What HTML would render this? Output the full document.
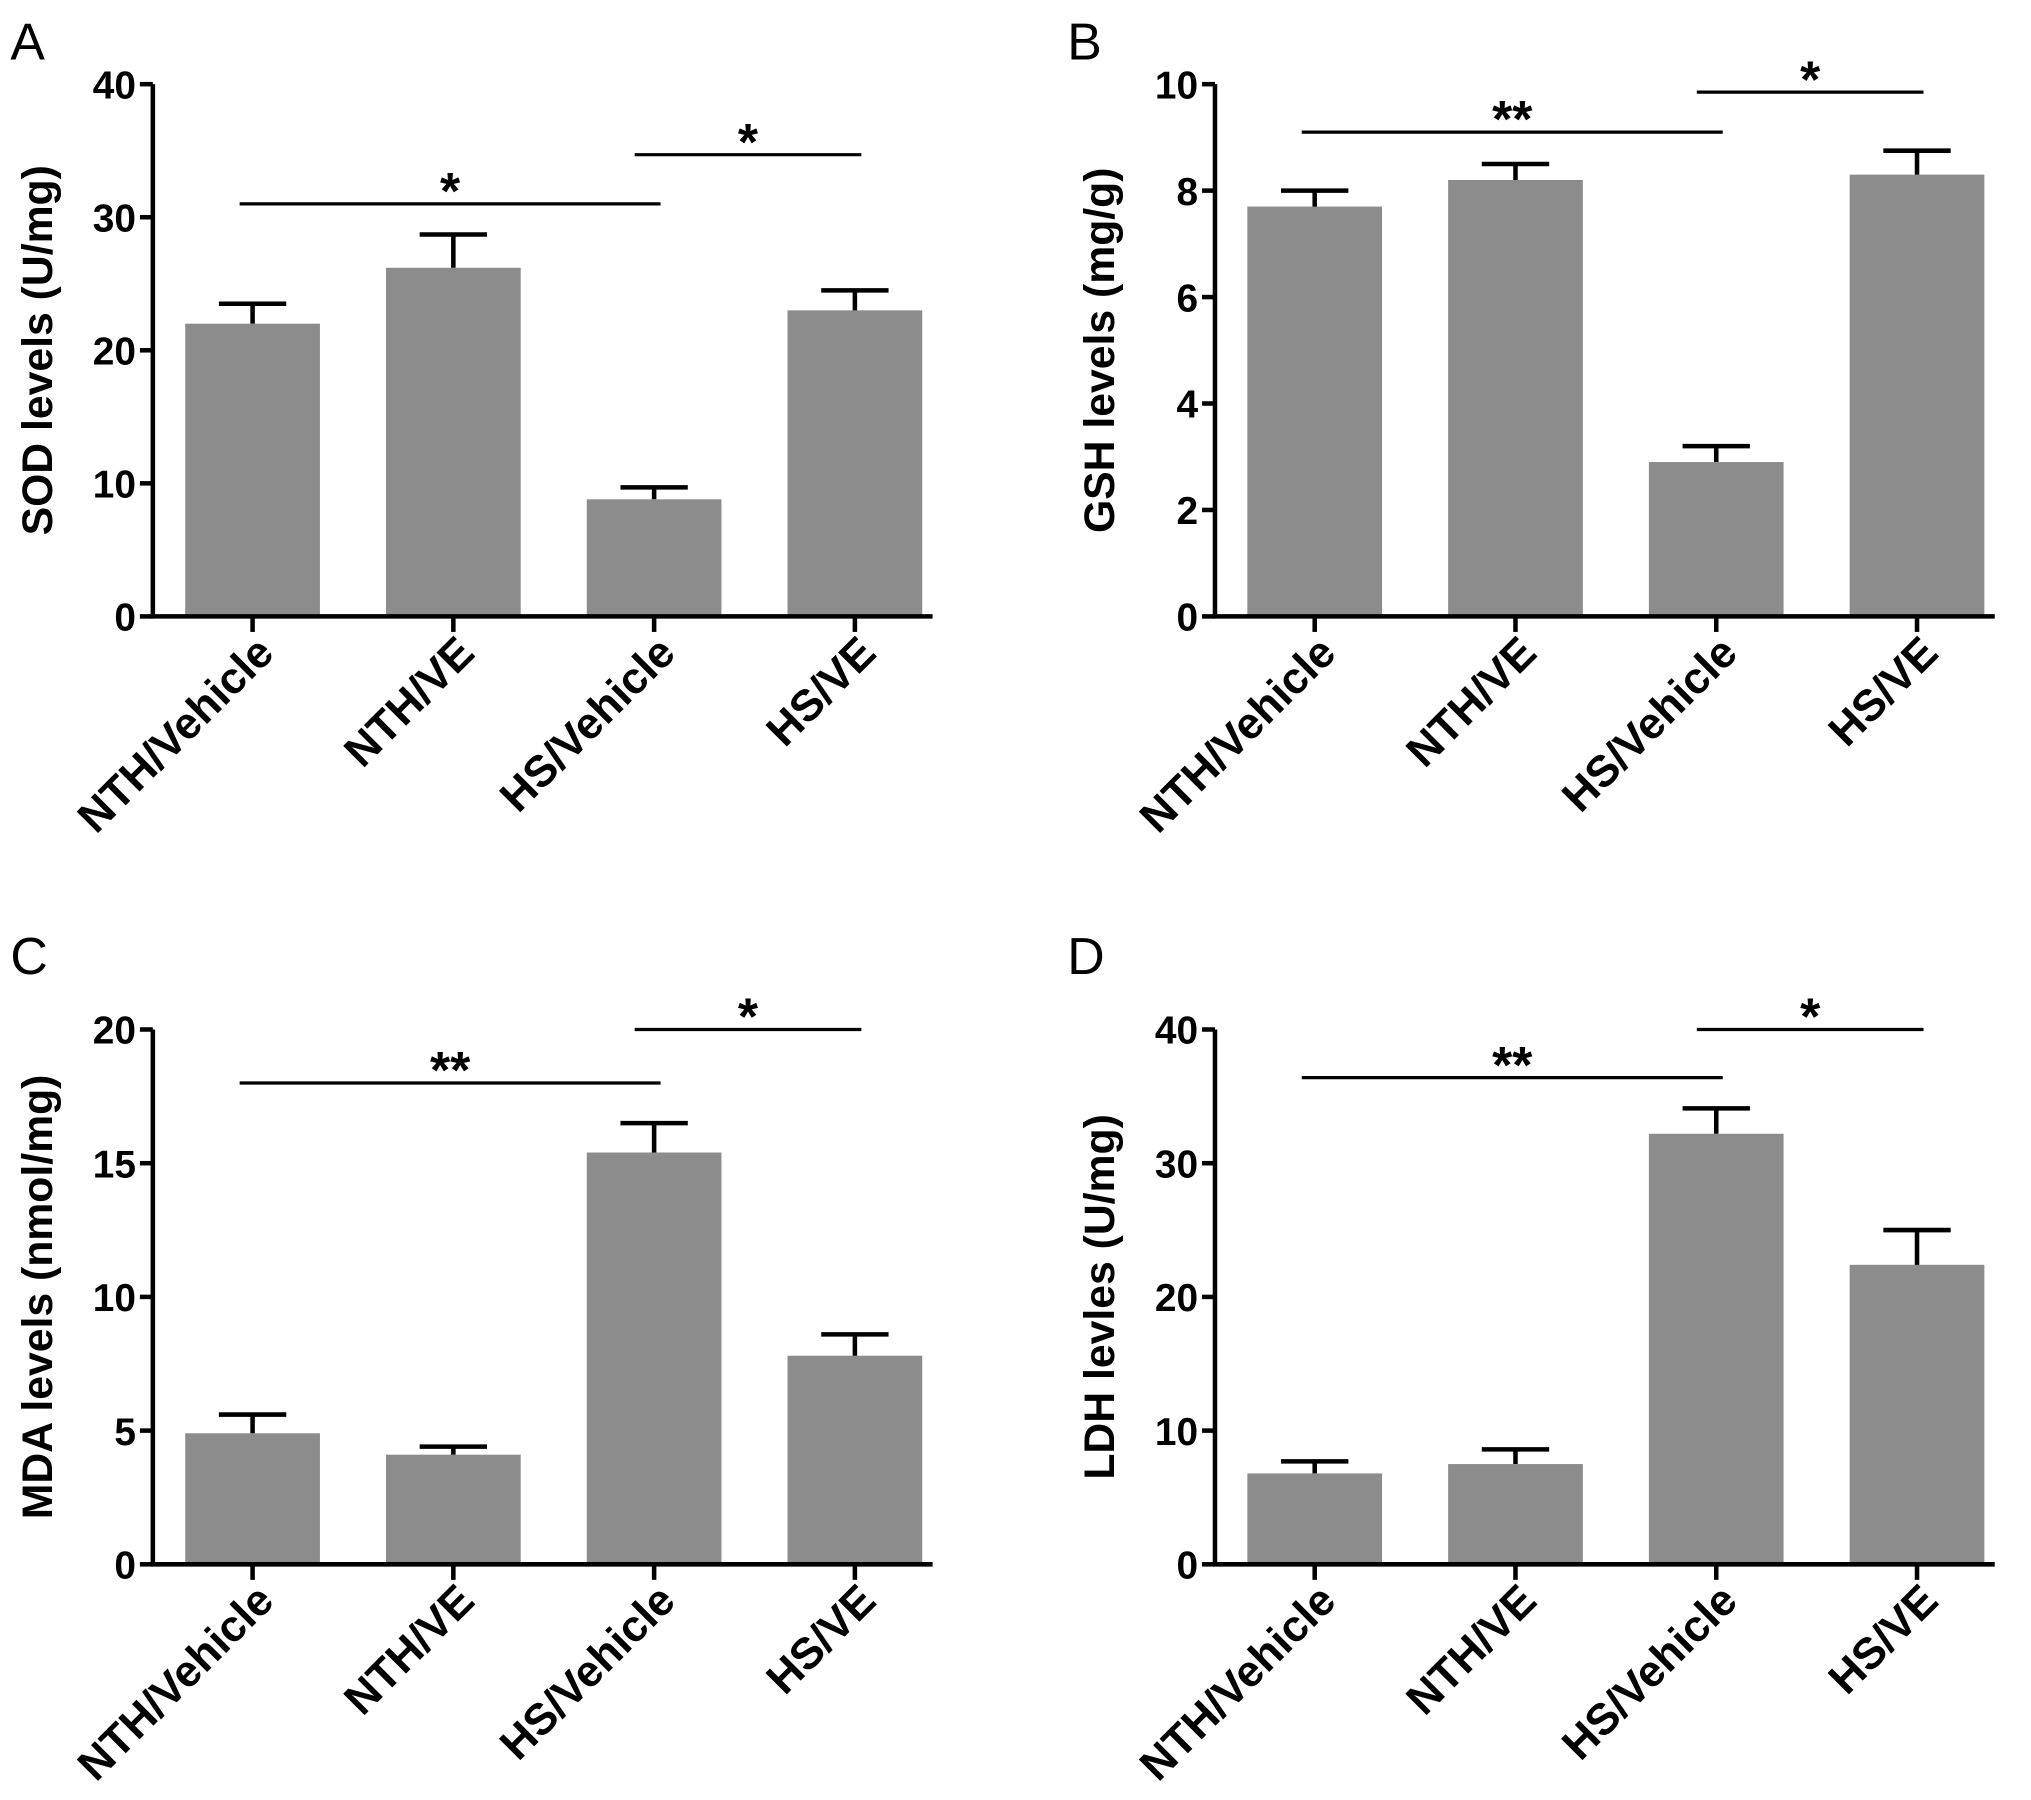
<!DOCTYPE html>
<html><head><meta charset="utf-8"><style>
html,body{margin:0;padding:0;background:#fff;}
svg{display:block;}
text{font-family:"Liberation Sans",Arial,sans-serif;}
</style></head><body>
<svg id="fig" width="2031" height="1800" viewBox="0 0 1568 1390" preserveAspectRatio="none" xmlns="http://www.w3.org/2000/svg"></svg>
<script>
const categories = ["NTH/Vehicle","NTH/VE","HS/Vehicle","HS/VE"];
const sodValues = [22, 26.2, 8.8, 23];
const sodErrors = [1.5, 2.5, 0.9, 1.5];
const gshValues = [7.7, 8.2, 2.9, 8.3];
const gshErrors = [0.3, 0.3, 0.3, 0.45];
const mdaValues = [4.9, 4.1, 15.4, 7.8];
const mdaErrors = [0.7, 0.3, 1.1, 0.8];
const ldhValues = [6.8, 7.5, 32.2, 22.4];
const ldhErrors = [0.9, 1.1, 1.9, 2.6];
const sodTicks = [0,10,20,30,40];
const gshTicks = [0,2,4,6,8,10];
const mdaTicks = [0,5,10,15,20];
const ldhTicks = [0,10,20,30,40];
// significance brackets: [fromCategory, toCategory, value level, label]
const sodSig = [[0,2,31,"*"],[2,3,34.7,"*"]];
const gshSig = [[0,2,9.1,"**"],[2,3,9.85,"*"]];
const mdaSig = [[0,2,18,"**"],[2,3,20,"*"]];
const ldhSig = [[0,2,36.4,"**"],[2,3,40,"*"]];

const NS="http://www.w3.org/2000/svg";
const svg=document.getElementById('fig');
function mk(tag,attrs,parent){const e=document.createElementNS(NS,tag);for(const k in attrs)e.setAttribute(k,attrs[k]);(parent||svg).appendChild(e);return e;}

function drawPanel(o){
  const g=mk('g',{});
  
  
  const x0=o.ax, yTop=o.top, yBot=o.bot, yMax=o.ticks[o.ticks.length-1];
  const yS=v=>yBot-(v/yMax)*(yBot-yTop);
  const step=155, bw=104;
  const xC=i=>x0+77+i*step;
  const lt=mk('text',{x:o.lx,y:o.ly,'font-size':40},g);lt.textContent=o.letter;
  
  
  o.vals.forEach((v,i)=>{
    const b=mk('rect',{x:xC(i)-bw/2,y:yS(v),width:bw,height:yBot-yS(v),fill:'#8c8c8c'},g);
    
    
    const e=o.errs[i], yt=yS(v+e);
    const eb=mk('path',{d:`M${xC(i)},${yS(v)} V${yt} M${xC(i)-26},${yt} H${xC(i)+26}`,stroke:'#000','stroke-width':3.5,fill:'none'},g);
    
    
  });
  const ax=mk('path',{d:`M${x0},${yTop} V${yBot} H${x0+602}`,stroke:'#000','stroke-width':3.5,fill:'none'},g);
  
  
  o.ticks.forEach(t=>{
    mk('line',{x1:x0-10,x2:x0,y1:yS(t),y2:yS(t),stroke:'#000','stroke-width':3.5},g);
    const tl=mk('text',{x:x0-13,y:yS(t)+11,'font-size':30,'font-weight':'bold','text-anchor':'end'},g);
    tl.textContent=t;
    
    
  });
  categories.forEach((c,i)=>{
    mk('line',{x1:xC(i),x2:xC(i),y1:yBot,y2:yBot+12,stroke:'#000','stroke-width':3.5},g);
    const cl=mk('text',{x:0,y:0,'font-size':34,'font-weight':'bold','text-anchor':'end',transform:`translate(${xC(i)+18},${yBot+30}) rotate(-45)`},g);
    cl.textContent=c;
    
    
  });
  const yt=mk('text',{x:0,y:0,'font-size':33,'font-weight':'bold','text-anchor':'middle',transform:`translate(${x0-78},${(yTop+yBot)/2}) rotate(-90)`},g);
  yt.textContent=o.title;
  
  
  o.sig.forEach(s=>{
    const y=yS(s[2]);
    const x1=xC(s[0])-10+(s[0]===2?-5:0), x2=xC(s[1])+5;
    const l=mk('line',{x1:x1,x2:x2,y1:y,y2:y,stroke:'#000','stroke-width':2.5},g);
    
    
    const st=mk('text',{x:(x1+x2)/2,y:y+4,'font-size':40,'font-weight':'bold','text-anchor':'middle'},g);
    st.textContent=s[3];
    
    
  });
}
drawPanel({letter:'A',lx:8,ly:46,ax:118,top:65,bot:476,vals:sodValues,errs:sodErrors,ticks:sodTicks,sig:sodSig,title:'SOD levels (U/mg)'});
drawPanel({letter:'B',lx:824,ly:46,ax:938,top:65,bot:476,vals:gshValues,errs:gshErrors,ticks:gshTicks,sig:gshSig,title:'GSH levels (mg/g)'});
drawPanel({letter:'C',lx:8,ly:752,ax:118,top:795,bot:1208,vals:mdaValues,errs:mdaErrors,ticks:mdaTicks,sig:mdaSig,title:'MDA levels (nmol/mg)'});
drawPanel({letter:'D',lx:824,ly:752,ax:938,top:795,bot:1208,vals:ldhValues,errs:ldhErrors,ticks:ldhTicks,sig:ldhSig,title:'LDH levles (U/mg)'});
</script>
</body></html>
